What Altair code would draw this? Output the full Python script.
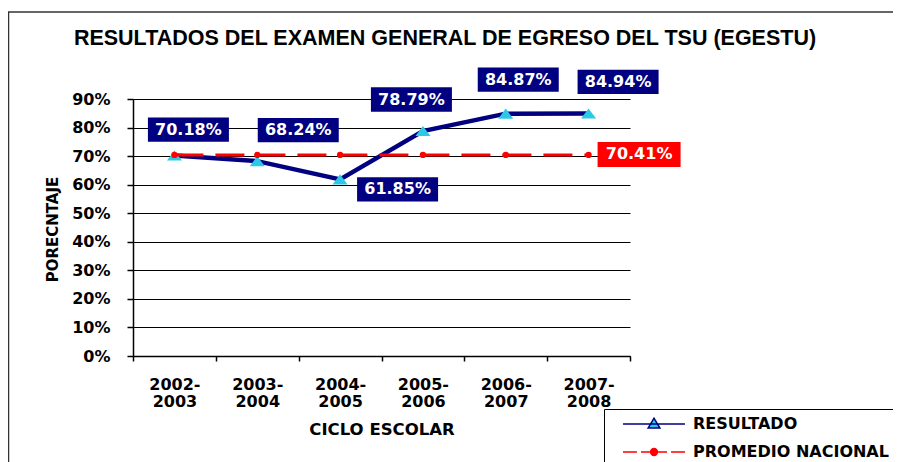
import altair as alt
import pandas as pd

# ---------------- data ----------------
ciclos = ["2002-2003", "2003-2004", "2004-2005", "2005-2006", "2006-2007", "2007-2008"]
resultado = [70.18, 68.24, 61.85, 78.79, 84.87, 84.94]
promedio = [70.41, 70.41, 70.41, 70.41, 70.41, 70.41]
series = ["RESULTADO", "PROMEDIO NACIONAL"]
y_ticks = [0, 10, 20, 30, 40, 50, 60, 70, 80, 90]

# ---------------- styling (label placement in pixels) ----------------
res_label_dx = [14, 41, 57.5, -11.5, 12.5, 29.5]
res_label_dy = [-26, -31, 10, -31.5, -34, -31.5]
prom_label_idx = 5
prom_label_dx, prom_label_dy = 50.5, -0.5

NAVY = "#000080"
CYAN = "#2CC9E6"
RED = "#FF0000"
FONT = "DejaVu Sans"

df_res = pd.DataFrame({"ciclo": ciclos, "valor": resultado, "serie": series[0]})
df_res["texto"] = [f"{v:.2f}%" for v in resultado]
df_prom = pd.DataFrame({"ciclo": ciclos, "valor": promedio, "serie": series[1]})
df_prom["texto"] = [f"{v:.2f}%" for v in promedio]
df_all = pd.concat([df_res, df_prom], ignore_index=True)

x_enc = alt.X(
    "ciclo:N",
    sort=ciclos,
    scale=alt.Scale(type="band", domain=ciclos, paddingInner=0, paddingOuter=0),
    axis=alt.Axis(
        title="CICLO ESCOLAR",
        titleFont=FONT, titleFontSize=16.5, titleFontWeight="bold", titleColor="black",
        titleX=248.5, titleY=73, titleBaseline="middle", titleAlign="center",
        labelAngle=0, labelFont=FONT, labelFontSize=16, labelFontWeight="bold",
        labelColor="black", labelPadding=15, labelLineHeight=17,
        labelExpr="indexof(datum.label, '-') > 0 ? [split(datum.label, '-')[0] + '-', split(datum.label, '-')[1]] : ''",
        tickBand="extent", tickSize=5, tickColor="black", tickWidth=1.5,
        domainColor="black", domainWidth=1.5, grid=False,
    ),
)
y_enc = alt.Y(
    "valor:Q",
    scale=alt.Scale(domain=[0, 90], nice=False, zero=True),
    axis=alt.Axis(
        title="PORECNTAJE",
        titleFont=FONT, titleFontSize=15, titleFontWeight="bold", titleColor="black",
        titleX=-81, titleY=130, titleAngle=270, titleBaseline="middle", titleAlign="center",
        values=y_ticks, labelExpr="datum.value + '%'",
        labelFont=FONT, labelFontSize=16, labelFontWeight="bold", labelColor="black",
        labelPadding=17, tickSize=6, tickColor="black", tickWidth=1.5,
        domainColor="black", domainWidth=1.5,
        grid=True, gridColor="black", gridWidth=1.2,
    ),
)

base_res = alt.Chart(df_res)
base_prom = alt.Chart(df_prom)

res_line = base_res.mark_line(color=NAVY, strokeWidth=4.5).encode(x=x_enc, y=y_enc)
res_pts = base_res.mark_point(
    shape="M-1,0.67L0,-0.67L1,0.67Z", filled=True, fill=CYAN, opacity=1, size=225, strokeWidth=0
).encode(x=x_enc, y=y_enc)
prom_line = base_prom.mark_line(color=RED, strokeWidth=3, strokeDash=[29, 12]).encode(x=x_enc, y=y_enc)
prom_pts = base_prom.mark_circle(color=RED, opacity=1, size=40).encode(x=x_enc, y=y_enc)

BOX = "M-1,-0.3H1V0.3H-1Z"
label_layers = []
for i, c in enumerate(ciclos):
    sel = base_res.transform_filter(alt.datum.ciclo == c)
    label_layers.append(
        sel.mark_point(shape=BOX, filled=True, fill=NAVY, opacity=1, size=6561, strokeWidth=0,
                       xOffset=res_label_dx[i], yOffset=res_label_dy[i]).encode(x=x_enc, y=y_enc)
    )
    label_layers.append(
        sel.mark_text(color="white", font=FONT, fontSize=16, fontWeight="bold",
                      align="center", baseline="middle",
                      dx=res_label_dx[i], dy=res_label_dy[i]).encode(x=x_enc, y=y_enc, text="texto:N")
    )
sel_p = base_prom.transform_filter(alt.datum.ciclo == ciclos[prom_label_idx])
label_layers.append(
    sel_p.mark_point(shape=BOX, filled=True, fill=RED, opacity=1, size=6889, strokeWidth=0,
                     xOffset=prom_label_dx, yOffset=prom_label_dy).encode(x=x_enc, y=y_enc)
)
label_layers.append(
    sel_p.mark_text(color="white", font=FONT, fontSize=16, fontWeight="bold",
                    align="center", baseline="middle",
                    dx=prom_label_dx, dy=prom_label_dy).encode(x=x_enc, y=y_enc, text="texto:N")
)

# legend (built from scales; the layer itself draws nothing)
PATH_RES = "M-1,0H1M-0.19,0.13L0,-0.19L0.19,0.13Z"
PATH_PROM = ("M-1,0H-0.55M-0.42,0H0.42M0.55,0H1"
             "M-0.11,0A0.11,0.11,0,1,0,0.11,0A0.11,0.11,0,1,0,-0.11,0Z")
leg = alt.Legend(
    title=None, orient="none", legendX=471, legendY=310, direction="vertical",
    padding=6, symbolSize=3844, symbolStrokeWidth=1.5, clipHeight=18, rowPadding=10,
    symbolOffset=12, labelOffset=7, labelFont=FONT, labelFontSize=16,
    labelFontWeight="bold", labelColor="black", labelLimit=400,
    strokeColor="black", fillColor="white", symbolOpacity=1,
)
legend_layer = alt.Chart(df_all).transform_filter("false").mark_point(
    filled=True, opacity=1, size=3844, strokeWidth=1.5
).encode(
    shape=alt.Shape("serie:N", scale=alt.Scale(domain=series, range=[PATH_RES, PATH_PROM]), legend=leg),
    fill=alt.Fill("serie:N", scale=alt.Scale(domain=series, range=[CYAN, RED]), legend=leg),
    stroke=alt.Stroke("serie:N", scale=alt.Scale(domain=series, range=[NAVY, RED]), legend=leg),
)

# outer chart frame
frame = alt.Chart(pd.DataFrame({"k": [0]})).mark_rect(
    fill=None, stroke="#333333", strokeWidth=1.5
).encode(x=alt.value(-124.5), x2=alt.value(900), y=alt.value(-87), y2=alt.value(600))

chart = alt.layer(
    frame, res_line, res_pts, prom_line, prom_pts, *label_layers, legend_layer
).properties(
    width=497,
    height=257,
    autosize=alt.AutoSizeParams(type="none"),
    padding={"left": 125, "top": 91, "right": 263, "bottom": 106},
    title=alt.TitleParams(
        text="RESULTADOS DEL EXAMEN GENERAL DE EGRESO DEL TSU (EGESTU)",
        font="Liberation Sans", fontSize=21.5, fontWeight="bold", color="black",
        anchor="middle", frame="group", dx=63.5, baseline="alphabetic", offset=-54.75,
    ),
).configure_view(stroke=None)

chart.save("out.html", embed_options={"renderer": "svg", "actions": False})
